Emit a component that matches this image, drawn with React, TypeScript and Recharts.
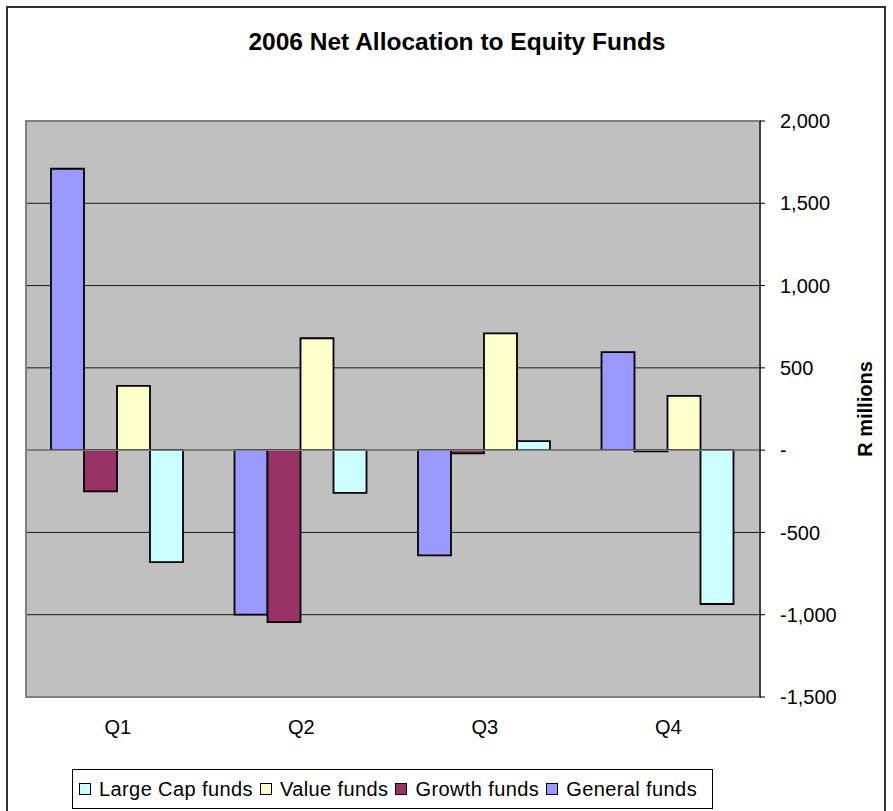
import React from 'react';
import {
  BarChart,
  Bar,
  XAxis,
  YAxis,
  CartesianGrid,
  ReferenceLine,
  ReferenceArea,
  Legend,
  Label,
} from 'recharts';

const categories = ['Q1', 'Q2', 'Q3', 'Q4'];
const generalFunds = [1710, -1000, -640, 595];
const growthFunds = [-250, -1045, -20, -8];
const valueFunds = [390, 680, 710, 330];
const largeCapFunds = [-680, -260, 55, -935];
const yTicks = [-1500, -1000, -500, 0, 500, 1000, 1500, 2000];

const series = [
  { key: 'general', name: 'General funds', color: '#9999FF', values: generalFunds },
  { key: 'growth', name: 'Growth funds', color: '#993366', values: growthFunds },
  { key: 'value', name: 'Value funds', color: '#FFFFCC', values: valueFunds },
  { key: 'largeCap', name: 'Large Cap funds', color: '#CCFFFF', values: largeCapFunds },
];
const legendOrder = ['Large Cap funds', 'Value funds', 'Growth funds', 'General funds'];

const FONT = '"Liberation Sans", Arial, Helvetica, sans-serif';

const data = categories.map((q, i) => {
  const row: Record<string, string | number> = { quarter: q };
  series.forEach((s) => {
    row[s.key] = s.values[i];
  });
  return row;
});

const fmt = (v: number) => (v === 0 ? '-' : v.toLocaleString('en-US'));

const renderLegend = (props: any) => {
  const payload: any[] = (props && props.payload) || [];
  const items = legendOrder.map((name) => {
    const p = payload.find((e) => e.value === name);
    const s = series.find((x) => x.name === name)!;
    return { name, color: (p && p.color) || s.color };
  });
  return (
    <div
      style={{
        width: 641,
        height: 40,
        boxSizing: 'border-box',
        border: '1px solid #000',
        background: '#fff',
        display: 'flex',
        alignItems: 'center',
        paddingLeft: 6,
        fontSize: 20,
        letterSpacing: 0.4,
        fontFamily: FONT,
        color: '#000',
        whiteSpace: 'nowrap',
      }}
    >
      {items.map((it) => (
        <span key={it.name} style={{ display: 'inline-flex', alignItems: 'center', marginRight: 7 }}>
          <span
            style={{
              display: 'inline-block',
              width: 12,
              height: 12,
              boxSizing: 'border-box',
              border: '1.5px solid #000',
              background: it.color,
              marginRight: 8,
            }}
          />
          {it.name}
        </span>
      ))}
    </div>
  );
};

export default function App() {
  return (
    <div
      style={{
        position: 'absolute',
        left: 0,
        top: 0,
        width: 893,
        height: 811,
        background: '#fff',
        overflow: 'hidden',
        fontFamily: FONT,
      }}
    >
      <div
        style={{
          position: 'absolute',
          left: 6,
          top: 6,
          width: 880,
          height: 830,
          border: '2px solid #333',
          boxSizing: 'border-box',
        }}
      />
      <div style={{ position: 'absolute', left: 0, top: 0 }}>
        <BarChart
          width={893}
          height={811}
          data={data}
          margin={{ top: 121, right: 0, bottom: 74, left: 26 }}
          barCategoryGap={25}
          barGap={0}
        >
          <CartesianGrid vertical={false} fill="#C0C0C0" fillOpacity={1} stroke="#1a1a1a" strokeWidth={1} />
          <ReferenceArea y1={-1500} y2={2000} fill="none" stroke="#808080" strokeWidth={2} ifOverflow="visible" />
          <ReferenceLine y={0} stroke="#808080" strokeWidth={1.5} />
          <XAxis
            dataKey="quarter"
            axisLine={false}
            tickLine={false}
            tickSize={0}
            tickMargin={23}
            height={40}
            tick={{ fill: '#000', fontSize: 20, fontFamily: FONT }}
          />
          <YAxis
            orientation="right"
            width={133}
            domain={[-1500, 2000]}
            ticks={yTicks}
            interval={0}
            tickFormatter={fmt}
            axisLine={{ stroke: '#000', strokeWidth: 1 }}
            tickLine={{ stroke: '#000', strokeWidth: 1 }}
            tickSize={5}
            tickMargin={15}
            tick={{ fill: '#000', fontSize: 20, fontFamily: FONT }}
          >
            <Label
              value="R millions"
              angle={-90}
              position="center"
              dx={38}
              style={{ fontSize: 20, fontWeight: 'bold', fill: '#000', fontFamily: FONT }}
            />
          </YAxis>
          {series.map((s) => (
            <Bar
              key={s.key}
              dataKey={s.key}
              name={s.name}
              fill={s.color}
              stroke="#000"
              strokeWidth={1.8}
              isAnimationActive={false}
            />
          ))}
          <Legend
            layout="horizontal"
            verticalAlign="middle"
            align="center"
            wrapperStyle={{ left: 72, top: 769, width: 641, height: 40 }}
            content={renderLegend}
          />
        </BarChart>
      </div>
      <div
        style={{
          position: 'absolute',
          left: 157,
          top: 30,
          width: 600,
          textAlign: 'center',
          fontSize: 24.5,
          lineHeight: '24px',
          fontWeight: 'bold',
          color: '#000',
          fontFamily: FONT,
        }}
      >
        2006 Net Allocation to Equity Funds
      </div>
    </div>
  );
}
